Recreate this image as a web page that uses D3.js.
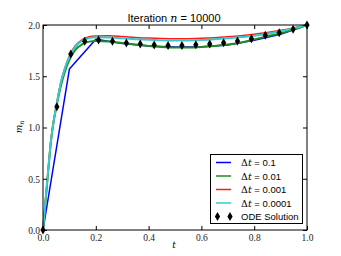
<!DOCTYPE html>
<html><head><meta charset="utf-8">
<script src="https://d3js.org/d3.v7.min.js"></script>
<style>body{margin:0;background:#fff}svg{display:block}</style>
</head><body>
<script>
// ---- data ----
const tBlue = [0,0.1,0.2,0.3,0.4,0.5,0.6,0.7,0.8,0.9,1.0];
const mBlue = [0,1.57,1.862,1.82,1.795,1.785,1.787,1.805,1.85,1.91,2.0];
const tFine = [0,0.01,0.02,0.03,0.04,0.05,0.06,0.07,0.08,0.1,0.12,0.15,0.175,0.2,0.25,0.3,0.35,0.4,0.45,0.5,0.55,0.6,0.65,0.7,0.75,0.8,0.85,0.9,0.95,1.0];
const mGreen = [0,0.29,0.58,0.86,1.05,1.19,1.32,1.43,1.52,1.66,1.75,1.815,1.838,1.845,1.84,1.825,1.81,1.795,1.785,1.78,1.78,1.785,1.795,1.81,1.83,1.86,1.89,1.92,1.955,2.0];
const mRed = [0,0.3,0.6,0.88,1.07,1.21,1.35,1.47,1.56,1.70,1.79,1.86,1.885,1.893,1.895,1.888,1.879,1.872,1.868,1.866,1.867,1.87,1.876,1.885,1.896,1.91,1.927,1.948,1.972,2.0];
const mCyan = [0,0.3,0.6,0.87,1.06,1.2,1.34,1.46,1.55,1.69,1.78,1.85,1.872,1.88,1.878,1.87,1.862,1.855,1.85,1.848,1.849,1.853,1.86,1.87,1.882,1.896,1.915,1.94,1.968,2.0];
const tODE = [0,0.0526,0.1053,0.1579,0.2105,0.2632,0.3158,0.3684,0.4211,0.4737,0.5263,0.5789,0.6316,0.6842,0.7368,0.7895,0.8421,0.8947,0.9474,1.0];
const mODE = [0,1.203,1.717,1.841,1.854,1.841,1.824,1.815,1.805,1.80,1.80,1.808,1.815,1.827,1.844,1.867,1.899,1.925,1.958,2.0];
const xTicks = [0,0.2,0.4,0.6,0.8,1.0];
const yTicks = [0,0.5,1.0,1.5,2.0];
const legendLabels = ["0.1","0.01","0.001","0.0001"];
const colors = ["#0000ff","#1e8c1e","#ff1a1a","#33cccc"];

const W=341,H=256, L=43,R=307,T=25,B=230;
const svg=d3.select("body").append("svg").attr("width",W).attr("height",H);
const x=d3.scaleLinear().domain([0,1]).range([L,R]);
const y=d3.scaleLinear().domain([0,2]).range([B,T]);
const serif="'DejaVu Serif', 'Liberation Serif', serif";
const tickFont="'Liberation Serif', 'DejaVu Serif', serif";
const sans="'Liberation Sans', Arial, sans-serif";

const series=[[tBlue,mBlue,1.5],[tFine,mGreen,2],[tFine,mRed,1.5],[tFine,mCyan,2]];
series.forEach((s,i)=>{
  const pts=s[0].map((t,j)=>[x(t),y(s[1][j])]);
  svg.append("path").attr("d",(i===0?d3.line():d3.line().curve(d3.curveMonotoneX))(pts))
    .attr("fill","none").attr("stroke",colors[i]).attr("stroke-width",s[2]).attr("stroke-linejoin","round");
});
// ODE markers (thin diamonds)
const dia=(cx,cy)=>`M${cx},${cy-4.5}L${cx+2.6},${cy}L${cx},${cy+4.5}L${cx-2.6},${cy}Z`;
svg.append("g").selectAll("path").data(tODE).join("path")
  .attr("d",(t,i)=>dia(x(t),y(mODE[i]))).attr("fill","#000");

// frame
svg.append("rect").attr("x",L).attr("y",T).attr("width",R-L).attr("height",B-T)
  .attr("fill","none").attr("stroke","#000").attr("stroke-width",1);

// axes (ticks inside)
const xb=d3.axisBottom(x).tickValues(xTicks).tickSize(-4).tickFormat(d3.format(".1f"));
const gx=svg.append("g").attr("transform",`translate(0,${B})`).call(xb);
const xt=d3.axisTop(x).tickValues(xTicks).tickSize(-4).tickFormat("");
const gxt=svg.append("g").attr("transform",`translate(0,${T})`).call(xt);
const yl=d3.axisLeft(y).tickValues(yTicks).tickSize(-4).tickFormat(d3.format(".1f"));
const gy=svg.append("g").attr("transform",`translate(${L},0)`).call(yl);
const yr=d3.axisRight(y).tickValues(yTicks).tickSize(-4).tickFormat("");
const gyr=svg.append("g").attr("transform",`translate(${R},0)`).call(yr);
[gx,gxt,gy,gyr].forEach(g=>{g.select(".domain").remove();g.selectAll("line").attr("stroke","#000");
  g.selectAll("text").attr("font-family",tickFont).attr("font-size",9.5).attr("fill","#222");});
gx.selectAll("text").attr("dy","0").attr("y",11);
gy.selectAll("text").attr("x",-3).attr("dy","0.35em");

// title
const title=svg.append("text").attr("x",174).attr("y",22).attr("text-anchor","middle")
  .attr("font-family",sans).attr("font-size",11);
title.append("tspan").text("Iteration ");
title.append("tspan").attr("font-family",serif).attr("font-style","italic").text("n");
title.append("tspan").text(" = 10000");

// axis labels
svg.append("text").attr("x",174).attr("y",248).attr("text-anchor","middle")
  .attr("font-family",serif).attr("font-style","italic").attr("font-size",9).text("t");
const ylab=svg.append("text").attr("transform","translate(22,127) rotate(-90)").attr("text-anchor","middle")
  .attr("font-family",serif).attr("font-style","italic").attr("font-size",9);
ylab.append("tspan").text("m");
ylab.append("tspan").attr("font-size",6.5).attr("dy",2).text("n");

// legend
const lg=svg.append("g");
lg.append("rect").attr("x",210.5).attr("y",154.5).attr("width",92).attr("height",69)
  .attr("fill","#fff").attr("stroke","#000").attr("stroke-width",1);
const rowY=[162.5,176,189.5,203,216.5];
legendLabels.forEach((lab,i)=>{
  lg.append("line").attr("x1",216).attr("x2",231).attr("y1",rowY[i]).attr("y2",rowY[i])
    .attr("stroke",colors[i]).attr("stroke-width",1.5);
  const tx=lg.append("text").attr("x",241).attr("y",rowY[i]+3.5).attr("font-size",9.5).attr("font-family",sans);
  tx.append("tspan").attr("font-family",serif).text("Δ");
  tx.append("tspan").attr("font-family",serif).attr("font-style","italic").text("t");
  tx.append("tspan").text(" = "+lab);
});
lg.append("path").attr("d",dia(217.5,rowY[4])).attr("fill","#000");
lg.append("path").attr("d",dia(230,rowY[4])).attr("fill","#000");
lg.append("text").attr("x",241).attr("y",rowY[4]+3.5).attr("font-size",9.5).attr("font-family",sans).text("ODE Solution");
</script>
</body></html>
